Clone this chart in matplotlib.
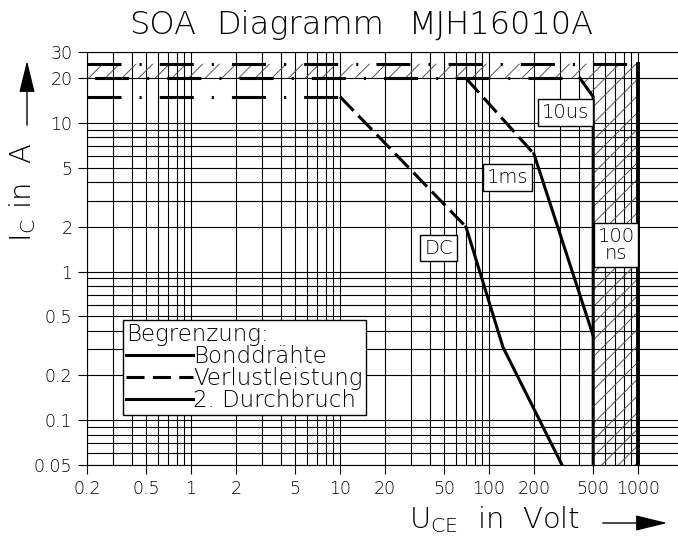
import numpy as np
import matplotlib.pyplot as plt
from matplotlib import font_manager as fm
from matplotlib.lines import Line2D
from matplotlib.patches import FancyArrowPatch
from matplotlib.ticker import FixedLocator, FixedFormatter, LogLocator, NullFormatter

# thin CAD-like lettering: take a light face if one is installed
family, weight = 'DejaVu Sans', 'normal'
for fam in ['DejaVu Sans', 'Open Sans', 'Lato', 'Roboto', 'Noto Sans', 'Inter']:
    w = [f.weight for f in fm.fontManager.ttflist
         if f.name == fam and isinstance(f.weight, int) and 200 <= f.weight <= 300
         and f.style == 'normal']
    if w:
        family, weight = fam, max(w)
        break
plt.rcParams['font.family'] = family
plt.rcParams['font.weight'] = weight
plt.rcParams['mathtext.fontset'] = 'custom'
plt.rcParams['mathtext.rm'] = family
plt.rcParams['lines.scale_dashes'] = False
plt.rcParams['hatch.linewidth'] = 0.7

# SOA limits MJH16010A, U_CE in V, I_C in A
dc_v = [0.2, 10, 70, 124, 309]
dc_i = [15, 15, 2, 0.31, 0.05]
ms_v = [70, 200, 500]
ms_i = [20, 6.2, 0.37]
us_v = [0.2, 407, 500, 500]
us_i = [20, 20, 15, 0.05]
ns_v = [0.2, 1000, 1000]
ns_i = [25, 25, 0.05]

x_ticks = [0.2, 0.5, 1, 2, 5, 10, 20, 50, 100, 200, 500, 1000]
x_labels = ['0.2', '0.5', '1', '2', '5', '10', '20', '50', '100', '200', '500', '1000']
y_ticks = [0.05, 0.1, 0.2, 0.5, 1, 2, 5, 10, 20, 30]
y_labels = ['0.05', '0.1', '0.2', '0.5', '1', '2', '5', '10', '20', '30']

# box labels: text, U, I
box_text = ['10us', '1ms', 'DC', '100\nns']
box_v = [324, 133, 45.8, 711]
box_i = [11.8, 4.29, 1.44, 1.51]

W, H = 678, 539
fig = plt.figure(figsize=(W / 100, H / 100), dpi=100)
ax = fig.add_axes([87 / W, 74 / H, (W - 87) / W, (465 - 52) / H])
ax.set_xscale('log')
ax.set_yscale('log')
ax.set_xlim(0.2, 1855)
ax.set_ylim(0.05, 30)

lw = 2.2
dashdot = (0, (24.5, 13, 1.5, 13))
dashdot_shift = (46.5, (24.5, 13, 1.5, 13))
dashed = (0, (14, 5))

# hatched region between the 10us and 100ns limits
ax.fill(ns_v + us_v[::-1], ns_i + us_i[::-1], facecolor='none',
        edgecolor='#555555', linewidth=0, hatch='//', zorder=2)

# DC
ax.plot(dc_v[:2], dc_i[:2], color='black', lw=lw, ls=dashdot, zorder=4)
ax.plot(dc_v[1:3], dc_i[1:3], color='black', lw=lw, ls=dashed, zorder=4)
ax.plot(dc_v[2:], dc_i[2:], color='black', lw=lw, zorder=4)
# 1 ms
ax.plot(ms_v[:2], ms_i[:2], color='black', lw=lw, ls=dashed, zorder=4)
ax.plot(ms_v[1:], ms_i[1:], color='black', lw=lw, zorder=4)
# 10 us
ax.plot(us_v[:2], us_i[:2], color='black', lw=lw, ls=dashdot_shift, zorder=4)
ax.plot(us_v[1:], us_i[1:], color='black', lw=lw, zorder=4)
# 100 ns
ax.plot(ns_v[:2], ns_i[:2], color='black', lw=lw, ls=dashdot, zorder=4)
ax.plot(ns_v[1:], ns_i[1:], color='black', lw=2.8, zorder=4)

for t, v, i in zip(box_text, box_v, box_i):
    ax.text(v, i, t, ha='center', va='center', fontsize=14, linespacing=0.9,
            zorder=6, bbox=dict(boxstyle='square,pad=0.2', fc='white',
                                ec='black', lw=1))

# ticks and grid
ax.xaxis.set_major_locator(FixedLocator(x_ticks))
ax.xaxis.set_major_formatter(FixedFormatter(x_labels))
ax.yaxis.set_major_locator(FixedLocator(y_ticks))
ax.yaxis.set_major_formatter(FixedFormatter(y_labels))
ax.xaxis.set_minor_locator(LogLocator(base=10, subs=np.arange(1, 10), numticks=100))
ax.yaxis.set_minor_locator(LogLocator(base=10, subs=np.arange(1, 10), numticks=100))
ax.xaxis.set_minor_formatter(NullFormatter())
ax.yaxis.set_minor_formatter(NullFormatter())
ax.tick_params(which='major', direction='out', length=6.5, width=0.8,
               labelsize=12.5, color='black')
ax.tick_params(axis='x', which='major', pad=4)
ax.tick_params(axis='y', which='major', pad=4)
ax.tick_params(which='minor', length=0)
ax.grid(True, which='both', color='black', lw=0.8)
ax.set_axisbelow(True)
ax.spines['right'].set_visible(False)
for s in ['left', 'top', 'bottom']:
    ax.spines[s].set_linewidth(0.8)

# legend
handles = [Line2D([], [], color='black', lw=lw),
           Line2D([], [], color='black', lw=lw, ls=(0, (13, 6))),
           Line2D([], [], color='black', lw=lw)]
leg = ax.legend(handles, ['Bonddrähte', 'Verlustleistung', '2. Durchbruch'],
                title='Begrenzung:', title_fontsize=16.5, fontsize=16.5,
                loc='upper left', bbox_to_anchor=(0.061, 0.351), borderaxespad=0,
                handlelength=2.9, handletextpad=0.0, labelspacing=-0.05,
                borderpad=0.15, fancybox=False, framealpha=1, edgecolor='black',
                alignment='left')
leg.get_frame().set_linewidth(1)
leg.set_zorder(7)

# title and axis labels
for word, xc in zip(['SOA', 'Diagramm', 'MJH16010A'], [163, 300, 501]):
    fig.text(xc / W, 1 - 25 / H, word, ha='center', va='center', fontsize=23)
fig.text(23 / W, 1 - 192 / H, 'I$_\\mathregular{C}$ in  A', rotation=90,
         ha='center', va='center', fontsize=21)
fig.text(495 / W, 1 - 520 / H, 'U$_\\mathregular{CE}$  in  Volt', ha='center',
         va='center', fontsize=21)
fig.add_artist(FancyArrowPatch(
    (27 / W, 1 - 128 / H), (27 / W, 1 - 58 / H), transform=fig.transFigure,
    arrowstyle='-|>,head_length=0.9,head_width=0.22', mutation_scale=22,
    color='black', lw=1))
fig.add_artist(FancyArrowPatch(
    (600 / W, 1 - 523 / H), (670 / W, 1 - 523 / H), transform=fig.transFigure,
    arrowstyle='-|>,head_length=0.9,head_width=0.22', mutation_scale=22,
    color='black', lw=1))

fig.savefig('out.png', dpi=100)
